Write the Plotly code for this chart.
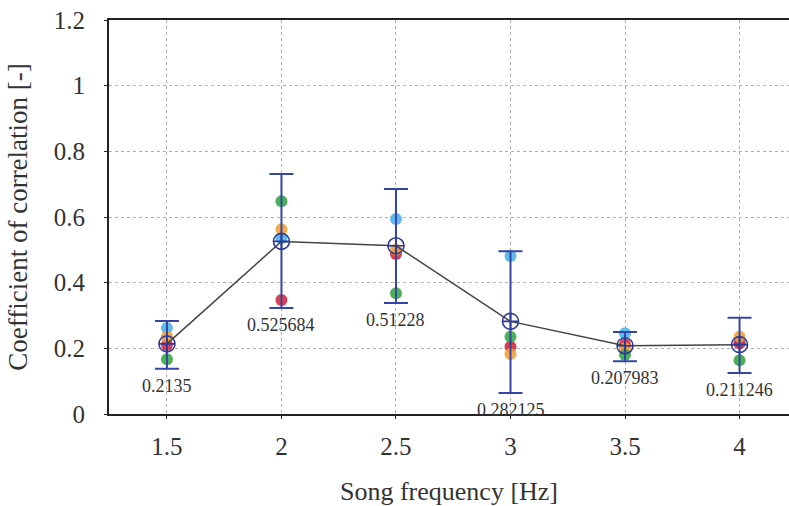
import plotly.graph_objects as go

freq = [1.5, 2.0, 2.5, 3.0, 3.5, 4.0]
mean_corr = [0.2135, 0.525684, 0.51228, 0.282125, 0.207983, 0.211246]
mean_labels = ["0.2135", "0.525684", "0.51228", "0.282125", "0.207983", "0.211246"]
err_top = [0.283, 0.731, 0.685, 0.496, 0.250, 0.293]
err_bottom = [0.138, 0.323, 0.338, 0.064, 0.161, 0.125]

series_blue = [0.262, 0.536, 0.594, 0.481, 0.246, 0.220]
series_orange = [0.235, 0.563, 0.500, 0.183, 0.200, 0.235]
series_green = [0.167, 0.648, 0.368, 0.235, 0.180, 0.164]
series_red = [0.210, 0.347, 0.487, 0.205, 0.212, 0.215]

series = [
    ("Blue", series_blue, "#4fb3e8"),
    ("Red", series_red, "#d8283c"),
    ("Orange", series_orange, "#f3a23a"),
    ("Green", series_green, "#39a845"),
]

fig = go.Figure()
for name, vals, col in series:
    fig.add_trace(go.Scatter(x=freq, y=vals, mode="markers", name=name,
                             marker=dict(size=12, color=col, opacity=0.9),
                             showlegend=False))

fig.add_trace(go.Scatter(
    x=freq, y=mean_corr, mode="lines", line=dict(color="#444444", width=1.5),
    showlegend=False))

fig.add_trace(go.Scatter(
    x=freq, y=mean_corr, mode="markers", showlegend=False,
    marker=dict(symbol="circle-cross-open", size=16, color="#2c3a99",
                line=dict(width=1.6, color="#2c3a99")),
    error_y=dict(type="data", symmetric=False,
                 array=[t - m for t, m in zip(err_top, mean_corr)],
                 arrayminus=[m - b for m, b in zip(mean_corr, err_bottom)],
                 color="#3545a5", thickness=2, width=12)))

for x, b, lab in zip(freq, err_bottom, mean_labels):
    fig.add_annotation(x=x, y=b, text=lab, showarrow=False, yanchor="top",
                       yshift=-5, font=dict(family="Liberation Serif", size=18, color="#333333"))

font = dict(family="Liberation Serif", color="#333333")
fig.update_layout(
    width=789, height=506,
    margin=dict(l=109, r=0, t=20, b=92),
    plot_bgcolor="white", paper_bgcolor="white",
    font=font,
    xaxis=dict(range=[1.247, 4.216], tickvals=freq, ticktext=["1.5", "2", "2.5", "3", "3.5", "4"],
               showgrid=True, gridcolor="#b0b0b0", griddash="dot", gridwidth=1,
               showline=True, linecolor="#222222", linewidth=2, mirror=True,
               ticks="outside", ticklen=3, tickcolor="#222222",
               tickfont=dict(size=25), zeroline=False, ticklabelstandoff=6,
               title=dict(text="Song frequency [Hz]", font=dict(size=26), standoff=24)),
    yaxis=dict(range=[0, 1.2], tickvals=[0, 0.2, 0.4, 0.6, 0.8, 1.0, 1.2],
               ticktext=["0", "0.2", "0.4", "0.6", "0.8", "1", "1.2"],
               showgrid=True, gridcolor="#b0b0b0", griddash="dot", gridwidth=1,
               showline=True, linecolor="#222222", linewidth=2,
               ticks="outside", ticklen=3, tickcolor="#222222",
               tickfont=dict(size=25), zeroline=False, ticklabelstandoff=14,
               title=dict(text="Coefficient of correlation [-]", font=dict(size=27), standoff=18)),
)

fig.write_html("out.html", config={"displayModeBar": False},
               post_script="document.body.style.margin='0px';document.body.style.overflow='hidden';")
